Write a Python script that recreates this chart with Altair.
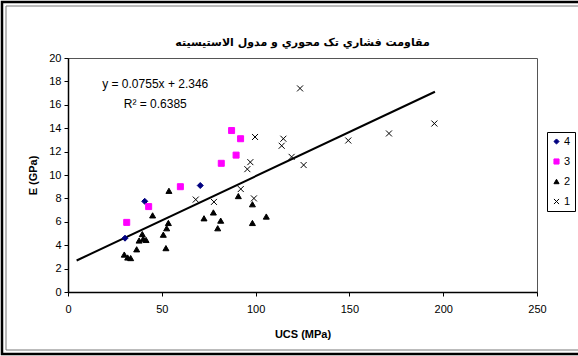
import altair as alt
import pandas as pd

# ---- data ----
s4_x = [30.4, 40.9, 70.5]
s4_y = [4.6, 7.75, 9.1]

s3_x = [31.3, 43.0, 59.9, 81.7, 87.2, 89.6, 92.0]
s3_y = [5.95, 7.3, 9.0, 11.0, 13.8, 11.7, 13.1]

s2_x = [30.0, 31.8, 33.4, 36.6, 37.9, 39.6, 40.1, 41.6, 45.1, 50.8, 52.2,
        52.6, 53.5, 53.8, 72.5, 77.5, 79.8, 81.4, 90.8, 98.3, 98.3, 105.7]
s2_y = [3.2, 2.95, 2.9, 3.65, 4.4, 4.95, 4.55, 4.45, 6.55, 4.9, 3.75,
        5.45, 5.9, 8.65, 6.3, 6.8, 5.45, 6.1, 8.2, 7.5, 5.9, 6.45]

s1_x = [68.1, 77.8, 92.1, 99.1, 95.6, 97.2, 99.7, 113.9, 114.8, 119.2,
        123.7, 125.6, 149.4, 171.1, 195.3]
s1_y = [7.9, 7.7, 8.8, 8.0, 10.5, 11.1, 13.25, 12.5, 13.1, 11.55,
        17.4, 10.85, 12.95, 13.55, 14.4]

series_names = ["4", "3", "2", "1"]
series_colors = ["#000080", "#FF00FF", "#000000", "#000000"]
series_fills = ["#000080", "#FF00FF", "#000000", "transparent"]
series_shapes = ["diamond", "square", "triangle-up", "M-1,-1L1,1M-1,1L1,-1"]

x_ticks = [0, 50, 100, 150, 200, 250]
y_ticks = [0, 2, 4, 6, 8, 10, 12, 14, 16, 18, 20]

trend_slope = 0.0755
trend_intercept = 2.346
trend_x = [4.6, 195.6]

eq_text = ["y = 0.0755x + 2.346", "R² = 0.6385"]
eq_x = [46.5, 46.5]
eq_y = [17.75, 16.05]

title_text = "مقاومت فشاري تک محوري و مدول الاستيسيته"

# ---- tables ----
rows = []
for name, xs, ys in [("4", s4_x, s4_y), ("3", s3_x, s3_y), ("2", s2_x, s2_y), ("1", s1_x, s1_y)]:
    for a, b in zip(xs, ys):
        rows.append({"UCS": a, "E": b, "series": name})
pts = pd.DataFrame(rows)
trend = pd.DataFrame({"UCS": trend_x})
eq = pd.DataFrame({"x": eq_x, "y": eq_y, "t": eq_text})
one = pd.DataFrame({"t": [title_text]})

FONT = "Liberation Sans"

xscale = alt.Scale(domain=[0, 250], nice=False)
yscale = alt.Scale(domain=[0, 20], nice=False)

xaxis = alt.Axis(values=x_ticks, title="UCS (MPa)", grid=False,
                 domainColor="black", tickColor="black", tickSize=4, labelFontSize=11,
                 labelFont=FONT, labelColor="black", titleFont=FONT, titleFontSize=11,
                 titleFontWeight="bold", titleColor="black", labelPadding=7, titlePadding=14,
                 domainWidth=1.5, labelFlush=False, labelOverlap=False)
yaxis = alt.Axis(values=y_ticks, title="E (GPa)", grid=False,
                 domainColor="black", tickColor="black", tickSize=4, labelFontSize=11,
                 labelFont=FONT, labelColor="black", titleFont=FONT, titleFontSize=11,
                 titleFontWeight="bold", titleColor="black", labelPadding=3, titlePadding=10,
                 domainWidth=1.5, labelOverlap=False)

X = lambda f: alt.X(f, scale=xscale, axis=xaxis)
Y = lambda f: alt.Y(f, scale=yscale, axis=yaxis)

line = alt.Chart(trend).transform_calculate(
    E=f"{trend_slope} * datum.UCS + {trend_intercept}"
).mark_line(color="black", strokeWidth=2).encode(
    x=X("UCS:Q"),
    y=Y("E:Q"),
)

points = alt.Chart(pts).mark_point(filled=False, size=36, strokeWidth=1, opacity=1).encode(
    x=X("UCS:Q"),
    y=Y("E:Q"),
    shape=alt.Shape("series:N", scale=alt.Scale(domain=series_names, range=series_shapes),
                    legend=alt.Legend(title=None, orient="none", legendX=479, legendY=74,
                                      strokeColor="black", fillColor="white", padding=4,
                                      labelFont=FONT, labelFontSize=11, labelColor="black",
                                      rowPadding=8, symbolSize=26, labelOffset=2,
                                      symbolStrokeWidth=1)),
    stroke=alt.Stroke("series:N", scale=alt.Scale(domain=series_names, range=series_colors), legend=None),
    fill=alt.Fill("series:N", scale=alt.Scale(domain=series_names, range=series_fills), legend=None),
)

eqtext = alt.Chart(eq).mark_text(font=FONT, fontSize=12, color="black").encode(
    x=X("x:Q"),
    y=Y("y:Q"),
    text="t:N",
)

title = alt.Chart(one).mark_text(font="DejaVu Sans", fontSize=11, fontWeight="bold",
                                 color="black", baseline="middle").encode(
    x=alt.value(234.5), y=alt.value(-15), text="t:N")

frame_outer = alt.Chart(pd.DataFrame({"k": [0]})).mark_rect(
    fill=None, stroke="black", strokeWidth=2.5
).encode(x=alt.value(-66), x2=alt.value(535), y=alt.value(-56), y2=alt.value(296))

frame_inner = alt.Chart(pd.DataFrame({"k": [0]})).mark_rect(
    fill=None, stroke="#777777", strokeWidth=1
).encode(x=alt.value(-62), x2=alt.value(531), y=alt.value(-52), y2=alt.value(292))

chart = alt.layer(line, points, eqtext, title, frame_outer, frame_inner).properties(
    width=469, height=234,
    autosize=alt.AutoSizeParams(type="none"),
    padding={"left": 68, "top": 58, "right": 41, "bottom": 64},
    background="white",
).configure_view(stroke="#555555", strokeWidth=1)

chart.save("out.html", embed_options={"renderer": "svg", "actions": False})
